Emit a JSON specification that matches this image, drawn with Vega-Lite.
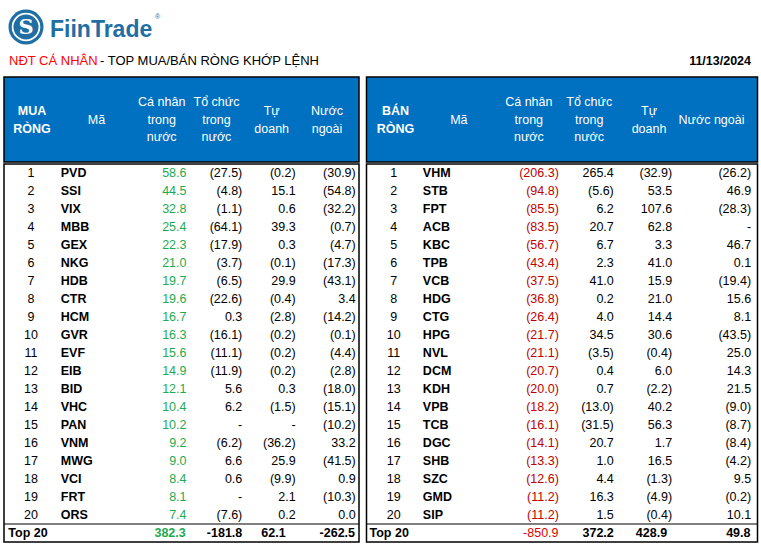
{
  "$schema": "https://vega.github.io/schema/vega-lite/v6.json",
  "background": "white",
  "padding": {"left": 2, "top": 0, "right": 0, "bottom": 0},
  "bounds": "flush",
  "spacing": 0,
  "config": {
    "font": "Liberation Sans",
    "view": {"stroke": null},
    "axis": {"disable": true},
    "text": {"font": "Liberation Sans", "fontSize": 12.5, "baseline": "middle", "color": "#000"}
  },
  "datasets": {
    "headL": [
      {"col": "rank", "label": "MUA\nRÒNG"},
      {"col": "ma", "label": "Mã"},
      {"col": "cn", "label": "Cá nhân\ntrong\nnước"},
      {"col": "tc", "label": "Tổ chức\ntrong\nnước"},
      {"col": "td", "label": "Tự\ndoanh"},
      {"col": "nn", "label": "Nước\nngoài"}
    ],
    "headR": [
      {"col": "rank", "label": "BÁN\nRÒNG"},
      {"col": "ma", "label": "Mã"},
      {"col": "cn", "label": "Cá nhân\ntrong\nnước"},
      {"col": "tc", "label": "Tổ chức\ntrong\nnước"},
      {"col": "td", "label": "Tự\ndoanh"},
      {"col": "nn", "label": "Nước ngoài"}
    ],
    "buy": [
      {"rank": 1, "ma": "PVD", "cn": 58.6, "tc": -27.5, "td": -0.2, "nn": -30.9},
      {"rank": 2, "ma": "SSI", "cn": 44.5, "tc": -4.8, "td": 15.1, "nn": -54.8},
      {"rank": 3, "ma": "VIX", "cn": 32.8, "tc": -1.1, "td": 0.6, "nn": -32.2},
      {"rank": 4, "ma": "MBB", "cn": 25.4, "tc": -64.1, "td": 39.3, "nn": -0.7},
      {"rank": 5, "ma": "GEX", "cn": 22.3, "tc": -17.9, "td": 0.3, "nn": -4.7},
      {"rank": 6, "ma": "NKG", "cn": 21.0, "tc": -3.7, "td": -0.1, "nn": -17.3},
      {"rank": 7, "ma": "HDB", "cn": 19.7, "tc": -6.5, "td": 29.9, "nn": -43.1},
      {"rank": 8, "ma": "CTR", "cn": 19.6, "tc": -22.6, "td": -0.4, "nn": 3.4},
      {"rank": 9, "ma": "HCM", "cn": 16.7, "tc": 0.3, "td": -2.8, "nn": -14.2},
      {"rank": 10, "ma": "GVR", "cn": 16.3, "tc": -16.1, "td": -0.2, "nn": -0.1},
      {"rank": 11, "ma": "EVF", "cn": 15.6, "tc": -11.1, "td": -0.2, "nn": -4.4},
      {"rank": 12, "ma": "EIB", "cn": 14.9, "tc": -11.9, "td": -0.2, "nn": -2.8},
      {"rank": 13, "ma": "BID", "cn": 12.1, "tc": 5.6, "td": 0.3, "nn": -18.0},
      {"rank": 14, "ma": "VHC", "cn": 10.4, "tc": 6.2, "td": -1.5, "nn": -15.1},
      {"rank": 15, "ma": "PAN", "cn": 10.2, "tc": null, "td": null, "nn": -10.2},
      {"rank": 16, "ma": "VNM", "cn": 9.2, "tc": -6.2, "td": -36.2, "nn": 33.2},
      {"rank": 17, "ma": "MWG", "cn": 9.0, "tc": 6.6, "td": 25.9, "nn": -41.5},
      {"rank": 18, "ma": "VCI", "cn": 8.4, "tc": 0.6, "td": -9.9, "nn": 0.9},
      {"rank": 19, "ma": "FRT", "cn": 8.1, "tc": null, "td": 2.1, "nn": -10.3},
      {"rank": 20, "ma": "ORS", "cn": 7.4, "tc": -7.6, "td": 0.2, "nn": 0.0}
    ],
    "buyTotal": [
      {"rank": 21, "label": "Top 20", "cn": 382.3, "tc": -181.8, "td": 62.1, "nn": -262.5}
    ],
    "sell": [
      {"rank": 1, "ma": "VHM", "cn": -206.3, "tc": 265.4, "td": -32.9, "nn": -26.2},
      {"rank": 2, "ma": "STB", "cn": -94.8, "tc": -5.6, "td": 53.5, "nn": 46.9},
      {"rank": 3, "ma": "FPT", "cn": -85.5, "tc": 6.2, "td": 107.6, "nn": -28.3},
      {"rank": 4, "ma": "ACB", "cn": -83.5, "tc": 20.7, "td": 62.8, "nn": null},
      {"rank": 5, "ma": "KBC", "cn": -56.7, "tc": 6.7, "td": 3.3, "nn": 46.7},
      {"rank": 6, "ma": "TPB", "cn": -43.4, "tc": 2.3, "td": 41.0, "nn": 0.1},
      {"rank": 7, "ma": "VCB", "cn": -37.5, "tc": 41.0, "td": 15.9, "nn": -19.4},
      {"rank": 8, "ma": "HDG", "cn": -36.8, "tc": 0.2, "td": 21.0, "nn": 15.6},
      {"rank": 9, "ma": "CTG", "cn": -26.4, "tc": 4.0, "td": 14.4, "nn": 8.1},
      {"rank": 10, "ma": "HPG", "cn": -21.7, "tc": 34.5, "td": 30.6, "nn": -43.5},
      {"rank": 11, "ma": "NVL", "cn": -21.1, "tc": -3.5, "td": -0.4, "nn": 25.0},
      {"rank": 12, "ma": "DCM", "cn": -20.7, "tc": 0.4, "td": 6.0, "nn": 14.3},
      {"rank": 13, "ma": "KDH", "cn": -20.0, "tc": 0.7, "td": -2.2, "nn": 21.5},
      {"rank": 14, "ma": "VPB", "cn": -18.2, "tc": -13.0, "td": 40.2, "nn": -9.0},
      {"rank": 15, "ma": "TCB", "cn": -16.1, "tc": -31.5, "td": 56.3, "nn": -8.7},
      {"rank": 16, "ma": "DGC", "cn": -14.1, "tc": 20.7, "td": 1.7, "nn": -8.4},
      {"rank": 17, "ma": "SHB", "cn": -13.3, "tc": 1.0, "td": 16.5, "nn": -4.2},
      {"rank": 18, "ma": "SZC", "cn": -12.6, "tc": 4.4, "td": -1.3, "nn": 9.5},
      {"rank": 19, "ma": "GMD", "cn": -11.2, "tc": 16.3, "td": -4.9, "nn": -0.2},
      {"rank": 20, "ma": "SIP", "cn": -11.2, "tc": 1.5, "td": -0.4, "nn": 10.1}
    ],
    "sellTotal": [
      {"rank": 21, "label": "Top 20", "cn": -850.9, "tc": 372.2, "td": 428.9, "nn": 49.8}
    ]
  },
  "vconcat": [
    {
      "width": 756,
      "height": 77,
      "view": {"stroke": null},
      "data": {"values": [{"item": "header"}]},
      "encoding": {
        "x": {"datum": "L", "type": "nominal", "scale": {"type": "point", "domain": ["L", "R"], "padding": 0}},
        "y": {"datum": "T", "type": "nominal", "scale": {"type": "point", "domain": ["T", "B"], "padding": 0}}
      },
      "layer": [
        {"mark": {"type": "circle", "size": 1225, "color": "#1F6EA4", "opacity": 1, "xOffset": 22, "yOffset": 27}},
        {"mark": {"type": "circle", "size": 720, "filled": false, "stroke": "white", "strokeWidth": 1.8, "opacity": 1, "xOffset": 22, "yOffset": 27}},
        {"mark": {"type": "text", "align": "center", "baseline": "middle", "dx": 22, "dy": 28, "font": "DejaVu Serif", "fontWeight": "bold", "fontSize": 21, "color": "white"}, "encoding": {"text": {"value": "S"}}},
        {"mark": {"type": "text", "align": "left", "baseline": "alphabetic", "dx": 46, "dy": 37, "fontSize": 23, "fontWeight": "bold", "color": "#1F6EA4"}, "encoding": {"text": {"value": "FiinTrade"}}},
        {"mark": {"type": "text", "align": "left", "baseline": "middle", "dx": 151, "dy": 17, "fontSize": 7, "color": "#1F6EA4"}, "encoding": {"text": {"value": "®"}}},
        {"mark": {"type": "text", "align": "left", "baseline": "middle", "dx": 5, "dy": 61, "fontSize": 13, "color": "#FF0000"}, "encoding": {"text": {"value": "NĐT CÁ NHÂN"}}},
        {"mark": {"type": "text", "align": "left", "baseline": "middle", "dx": 96, "dy": 61, "fontSize": 13, "color": "#000000"}, "encoding": {"text": {"value": "- TOP MUA/BÁN RÒNG KHỚP LỆNH"}}},
        {"mark": {"type": "text", "align": "right", "baseline": "middle", "dx": -9, "dy": 61, "fontSize": 12.5, "fontWeight": "bold", "color": "#000000"}, "encoding": {"x": {"datum": "R", "type": "nominal", "scale": {"type": "point", "domain": ["L", "R"], "padding": 0}}, "text": {"value": "11/13/2024"}}}
      ]
    },
    {
      "hconcat": [
        {
          "vconcat": [
            {
              "width": 355,
              "height": 85,
              "view": {"fill": "#0070C0", "stroke": "#000000", "strokeWidth": 1.5},
              "data": {"name": "headL"},
              "encoding": {
                "x": {"field": "col", "type": "nominal", "scale": {"type": "band", "domain": ["rank", "ma", "cn", "tc", "td", "nn"], "paddingInner": 0, "paddingOuter": 0}},
                "text": {"field": "label"}
              },
              "layer": [
                {"transform": [{"filter": "datum.col == 'rank'"}], "mark": {"type": "text", "align": "center", "color": "white", "fontWeight": "bold", "lineBreak": "\n", "lineHeight": 18, "dx": -1.6, "dy": -9}},
                {"transform": [{"filter": "datum.col == 'ma'"}], "mark": {"type": "text", "align": "center", "color": "white", "lineBreak": "\n", "lineHeight": 18, "dx": 3.75}},
                {"transform": [{"filter": "datum.col == 'cn'"}], "mark": {"type": "text", "align": "center", "color": "white", "lineBreak": "\n", "lineHeight": 17.5, "dx": 9.8, "dy": -17.5}},
                {"transform": [{"filter": "datum.col == 'tc'"}], "mark": {"type": "text", "align": "center", "color": "white", "lineBreak": "\n", "lineHeight": 17.5, "dx": 5.4, "dy": -17.5}},
                {"transform": [{"filter": "datum.col == 'td'"}], "mark": {"type": "text", "align": "center", "color": "white", "lineBreak": "\n", "lineHeight": 18, "dx": 1.4, "dy": -9}},
                {"transform": [{"filter": "datum.col == 'nn'"}], "mark": {"type": "text", "align": "center", "color": "white", "lineBreak": "\n", "lineHeight": 18, "dx": -2.4, "dy": -9}}
              ]
            },
            {
              "width": 355,
              "height": 378,
              "view": {"stroke": "#000000", "strokeWidth": 1.5},
              "encoding": {
                "y": {"field": "rank", "type": "ordinal", "scale": {"type": "band", "domain": [1,2,3,4,5,6,7,8,9,10,11,12,13,14,15,16,17,18,19,20,21], "paddingInner": 0, "paddingOuter": 0}}
              },
              "layer": [
                {
                  "data": {"name": "buyTotal"},
                  "mark": {"type": "rule", "color": "#000000", "strokeWidth": 1},
                  "encoding": {"y": {"field": "rank", "type": "ordinal", "bandPosition": 0, "scale": {"type": "band", "domain": [1,2,3,4,5,6,7,8,9,10,11,12,13,14,15,16,17,18,19,20,21], "paddingInner": 0, "paddingOuter": 0}}}
                },
                {
                  "data": {"name": "buy"},
                  "transform": [
                    {"calculate": "datum.cn === null ? '-\u2007\u2004' : datum.cn < 0 ? '(' + format(-datum.cn, '.1f') + ')' : format(datum.cn, '.1f') + '\u2004'", "as": "cn_t"},
                    {"calculate": "datum.tc === null ? '-\u2007\u2004' : datum.tc < 0 ? '(' + format(-datum.tc, '.1f') + ')' : format(datum.tc, '.1f') + '\u2004'", "as": "tc_t"},
                    {"calculate": "datum.td === null ? '-\u2007\u2004' : datum.td < 0 ? '(' + format(-datum.td, '.1f') + ')' : format(datum.td, '.1f') + '\u2004'", "as": "td_t"},
                    {"calculate": "datum.nn === null ? '-\u2007\u2004' : datum.nn < 0 ? '(' + format(-datum.nn, '.1f') + ')' : format(datum.nn, '.1f') + '\u2004'", "as": "nn_t"}
                  ],
                  "layer": [
                    {"mark": {"type": "text", "align": "center", "dx": -2.6}, "encoding": {"x": {"datum": "rank", "type": "nominal", "scale": {"type": "band", "domain": ["rank", "ma", "cn", "tc", "td", "nn"], "paddingInner": 0, "paddingOuter": 0}}, "text": {"field": "rank"}}},
                    {"mark": {"type": "text", "align": "left", "fontWeight": "bold", "dx": -32}, "encoding": {"x": {"datum": "ma", "type": "nominal", "scale": {"type": "band", "domain": ["rank", "ma", "cn", "tc", "td", "nn"], "paddingInner": 0, "paddingOuter": 0}}, "text": {"field": "ma"}}},
                    {"mark": {"type": "text", "align": "right", "color": "#1FAA4F", "dx": 34.6}, "encoding": {"x": {"datum": "cn", "type": "nominal", "scale": {"type": "band", "domain": ["rank", "ma", "cn", "tc", "td", "nn"], "paddingInner": 0, "paddingOuter": 0}}, "text": {"field": "cn_t"}}},
                    {"mark": {"type": "text", "align": "right", "dx": 31.2}, "encoding": {"x": {"datum": "tc", "type": "nominal", "scale": {"type": "band", "domain": ["rank", "ma", "cn", "tc", "td", "nn"], "paddingInner": 0, "paddingOuter": 0}}, "text": {"field": "tc_t"}}},
                    {"mark": {"type": "text", "align": "right", "dx": 25.4}, "encoding": {"x": {"datum": "td", "type": "nominal", "scale": {"type": "band", "domain": ["rank", "ma", "cn", "tc", "td", "nn"], "paddingInner": 0, "paddingOuter": 0}}, "text": {"field": "td_t"}}},
                    {"mark": {"type": "text", "align": "right", "dx": 26.3}, "encoding": {"x": {"datum": "nn", "type": "nominal", "scale": {"type": "band", "domain": ["rank", "ma", "cn", "tc", "td", "nn"], "paddingInner": 0, "paddingOuter": 0}}, "text": {"field": "nn_t"}}}
                  ]
                },
                {
                  "data": {"name": "buyTotal"},
                  "transform": [
                    {"calculate": "(datum.cn < 0 ? '-' : '') + format(abs(datum.cn), '.1f')", "as": "cn_t"},
                    {"calculate": "(datum.tc < 0 ? '-' : '') + format(abs(datum.tc), '.1f')", "as": "tc_t"},
                    {"calculate": "(datum.td < 0 ? '-' : '') + format(abs(datum.td), '.1f')", "as": "td_t"},
                    {"calculate": "(datum.nn < 0 ? '-' : '') + format(abs(datum.nn), '.1f')", "as": "nn_t"}
                  ],
                  "layer": [
                    {"mark": {"type": "text", "align": "left", "fontWeight": "bold", "dx": -25.3}, "encoding": {"x": {"datum": "rank", "type": "nominal", "scale": {"type": "band", "domain": ["rank", "ma", "cn", "tc", "td", "nn"], "paddingInner": 0, "paddingOuter": 0}}, "text": {"field": "label"}}},
                    {"mark": {"type": "text", "align": "right", "fontWeight": "bold", "color": "#1FAA4F", "dx": 33.8}, "encoding": {"x": {"datum": "cn", "type": "nominal", "scale": {"type": "band", "domain": ["rank", "ma", "cn", "tc", "td", "nn"], "paddingInner": 0, "paddingOuter": 0}}, "text": {"field": "cn_t"}}},
                    {"mark": {"type": "text", "align": "right", "fontWeight": "bold", "dx": 31.2}, "encoding": {"x": {"datum": "tc", "type": "nominal", "scale": {"type": "band", "domain": ["rank", "ma", "cn", "tc", "td", "nn"], "paddingInner": 0, "paddingOuter": 0}}, "text": {"field": "tc_t"}}},
                    {"mark": {"type": "text", "align": "right", "fontWeight": "bold", "dx": 15.4}, "encoding": {"x": {"datum": "td", "type": "nominal", "scale": {"type": "band", "domain": ["rank", "ma", "cn", "tc", "td", "nn"], "paddingInner": 0, "paddingOuter": 0}}, "text": {"field": "td_t"}}},
                    {"mark": {"type": "text", "align": "right", "fontWeight": "bold", "dx": 25.6}, "encoding": {"x": {"datum": "nn", "type": "nominal", "scale": {"type": "band", "domain": ["rank", "ma", "cn", "tc", "td", "nn"], "paddingInner": 0, "paddingOuter": 0}}, "text": {"field": "nn_t"}}}
                  ]
                }
              ]
            }
          ],
          "spacing": 0
        },
        {
          "vconcat": [
            {
              "width": 391,
              "height": 85,
              "view": {"fill": "#0070C0", "stroke": "#000000", "strokeWidth": 1.5},
              "data": {"name": "headR"},
              "encoding": {
                "x": {"field": "col", "type": "nominal", "scale": {"type": "band", "domain": ["rank", "ma", "cn", "tc", "td", "nn"], "paddingInner": 0, "paddingOuter": 0}},
                "text": {"field": "label"}
              },
              "layer": [
                {"transform": [{"filter": "datum.col == 'rank'"}], "mark": {"type": "text", "align": "center", "color": "white", "fontWeight": "bold", "lineBreak": "\n", "lineHeight": 18, "dx": -3.6, "dy": -9}},
                {"transform": [{"filter": "datum.col == 'ma'"}], "mark": {"type": "text", "align": "center", "color": "white", "lineBreak": "\n", "lineHeight": 18, "dx": -5.4}},
                {"transform": [{"filter": "datum.col == 'cn'"}], "mark": {"type": "text", "align": "center", "color": "white", "lineBreak": "\n", "lineHeight": 17.5, "dx": -0.6, "dy": -17.5}},
                {"transform": [{"filter": "datum.col == 'tc'"}], "mark": {"type": "text", "align": "center", "color": "white", "lineBreak": "\n", "lineHeight": 17.5, "dx": -5.4, "dy": -17.5}},
                {"transform": [{"filter": "datum.col == 'td'"}], "mark": {"type": "text", "align": "center", "color": "white", "lineBreak": "\n", "lineHeight": 18, "dx": -10.75, "dy": -9}},
                {"transform": [{"filter": "datum.col == 'nn'"}], "mark": {"type": "text", "align": "center", "color": "white", "lineBreak": "\n", "lineHeight": 18, "dx": -13.4}}
              ]
            },
            {
              "width": 391,
              "height": 378,
              "view": {"stroke": "#000000", "strokeWidth": 1.5},
              "encoding": {
                "y": {"field": "rank", "type": "ordinal", "scale": {"type": "band", "domain": [1,2,3,4,5,6,7,8,9,10,11,12,13,14,15,16,17,18,19,20,21], "paddingInner": 0, "paddingOuter": 0}}
              },
              "layer": [
                {
                  "data": {"name": "sellTotal"},
                  "mark": {"type": "rule", "color": "#000000", "strokeWidth": 1},
                  "encoding": {"y": {"field": "rank", "type": "ordinal", "bandPosition": 0, "scale": {"type": "band", "domain": [1,2,3,4,5,6,7,8,9,10,11,12,13,14,15,16,17,18,19,20,21], "paddingInner": 0, "paddingOuter": 0}}}
                },
                {
                  "data": {"name": "sell"},
                  "transform": [
                    {"calculate": "datum.cn === null ? '-\u2007\u2004' : datum.cn < 0 ? '(' + format(-datum.cn, '.1f') + ')' : format(datum.cn, '.1f') + '\u2004'", "as": "cn_t"},
                    {"calculate": "datum.tc === null ? '-\u2007\u2004' : datum.tc < 0 ? '(' + format(-datum.tc, '.1f') + ')' : format(datum.tc, '.1f') + '\u2004'", "as": "tc_t"},
                    {"calculate": "datum.td === null ? '-\u2007\u2004' : datum.td < 0 ? '(' + format(-datum.td, '.1f') + ')' : format(datum.td, '.1f') + '\u2004'", "as": "td_t"},
                    {"calculate": "datum.nn === null ? '-\u2007\u2004' : datum.nn < 0 ? '(' + format(-datum.nn, '.1f') + ')' : format(datum.nn, '.1f') + '\u2004'", "as": "nn_t"}
                  ],
                  "layer": [
                    {"mark": {"type": "text", "align": "center", "dx": -5.3}, "encoding": {"x": {"datum": "rank", "type": "nominal", "scale": {"type": "band", "domain": ["rank", "ma", "cn", "tc", "td", "nn"], "paddingInner": 0, "paddingOuter": 0}}, "text": {"field": "rank"}}},
                    {"mark": {"type": "text", "align": "left", "fontWeight": "bold", "dx": -41.4}, "encoding": {"x": {"datum": "ma", "type": "nominal", "scale": {"type": "band", "domain": ["rank", "ma", "cn", "tc", "td", "nn"], "paddingInner": 0, "paddingOuter": 0}}, "text": {"field": "ma"}}},
                    {"mark": {"type": "text", "align": "right", "color": "#C00000", "dx": 29.4}, "encoding": {"x": {"datum": "cn", "type": "nominal", "scale": {"type": "band", "domain": ["rank", "ma", "cn", "tc", "td", "nn"], "paddingInner": 0, "paddingOuter": 0}}, "text": {"field": "cn_t"}}},
                    {"mark": {"type": "text", "align": "right", "dx": 19.2}, "encoding": {"x": {"datum": "tc", "type": "nominal", "scale": {"type": "band", "domain": ["rank", "ma", "cn", "tc", "td", "nn"], "paddingInner": 0, "paddingOuter": 0}}, "text": {"field": "tc_t"}}},
                    {"mark": {"type": "text", "align": "right", "dx": 12.4}, "encoding": {"x": {"datum": "td", "type": "nominal", "scale": {"type": "band", "domain": ["rank", "ma", "cn", "tc", "td", "nn"], "paddingInner": 0, "paddingOuter": 0}}, "text": {"field": "td_t"}}},
                    {"mark": {"type": "text", "align": "right", "dx": 26.2}, "encoding": {"x": {"datum": "nn", "type": "nominal", "scale": {"type": "band", "domain": ["rank", "ma", "cn", "tc", "td", "nn"], "paddingInner": 0, "paddingOuter": 0}}, "text": {"field": "nn_t"}}}
                  ]
                },
                {
                  "data": {"name": "sellTotal"},
                  "transform": [
                    {"calculate": "(datum.cn < 0 ? '-' : '') + format(abs(datum.cn), '.1f')", "as": "cn_t"},
                    {"calculate": "(datum.tc < 0 ? '-' : '') + format(abs(datum.tc), '.1f')", "as": "tc_t"},
                    {"calculate": "(datum.td < 0 ? '-' : '') + format(abs(datum.td), '.1f')", "as": "td_t"},
                    {"calculate": "(datum.nn < 0 ? '-' : '') + format(abs(datum.nn), '.1f')", "as": "nn_t"}
                  ],
                  "layer": [
                    {"mark": {"type": "text", "align": "left", "fontWeight": "bold", "dx": -29.6}, "encoding": {"x": {"datum": "rank", "type": "nominal", "scale": {"type": "band", "domain": ["rank", "ma", "cn", "tc", "td", "nn"], "paddingInner": 0, "paddingOuter": 0}}, "text": {"field": "label"}}},
                    {"mark": {"type": "text", "align": "right", "color": "#E00000", "dx": 29.1}, "encoding": {"x": {"datum": "cn", "type": "nominal", "scale": {"type": "band", "domain": ["rank", "ma", "cn", "tc", "td", "nn"], "paddingInner": 0, "paddingOuter": 0}}, "text": {"field": "cn_t"}}},
                    {"mark": {"type": "text", "align": "right", "fontWeight": "bold", "dx": 19.2}, "encoding": {"x": {"datum": "tc", "type": "nominal", "scale": {"type": "band", "domain": ["rank", "ma", "cn", "tc", "td", "nn"], "paddingInner": 0, "paddingOuter": 0}}, "text": {"field": "tc_t"}}},
                    {"mark": {"type": "text", "align": "right", "fontWeight": "bold", "dx": 7.4}, "encoding": {"x": {"datum": "td", "type": "nominal", "scale": {"type": "band", "domain": ["rank", "ma", "cn", "tc", "td", "nn"], "paddingInner": 0, "paddingOuter": 0}}, "text": {"field": "td_t"}}},
                    {"mark": {"type": "text", "align": "right", "fontWeight": "bold", "dx": 25.6}, "encoding": {"x": {"datum": "nn", "type": "nominal", "scale": {"type": "band", "domain": ["rank", "ma", "cn", "tc", "td", "nn"], "paddingInner": 0, "paddingOuter": 0}}, "text": {"field": "nn_t"}}}
                  ]
                }
              ]
            }
          ],
          "spacing": 0
        }
      ],
      "spacing": 3.5
    }
  ]
}
